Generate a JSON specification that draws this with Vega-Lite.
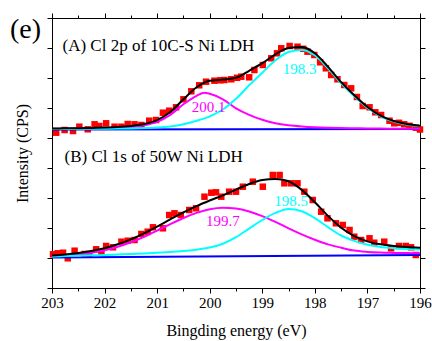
{
  "$schema": "https://vega.github.io/schema/vega-lite/v6.json",
  "width": 368,
  "height": 270,
  "autosize": "none",
  "padding": {"left": 52, "top": 18, "right": 12, "bottom": 53},
  "background": "white",
  "config": {
    "view": {"stroke": "black", "strokeWidth": 1},
    "font": "Liberation Serif",
    "axis": {"domainColor": "black", "tickColor": "black", "labelColor": "black", "titleColor": "black", "labelFont": "Liberation Serif", "titleFont": "Liberation Serif", "grid": false, "tickWidth": 1, "domainWidth": 1}
  },
  "title": {"text": "(e)", "anchor": "start", "frame": "group", "fontSize": 28, "fontWeight": "normal", "font": "Liberation Serif", "color": "black", "baseline": "alphabetic", "offset": 0, "dx": -42, "dy": 53},
  "datasets": {
    "curves": [
      {"s":"A","c":"base","x":203,"y":158.6},{"s":"A","c":"base","x":196,"y":158.9},
      {"s":"B","c":"base","x":203,"y":30.6},{"s":"B","c":"base","x":196,"y":33.0},
      {"s":"A","c":"mag","x":203,"y":159.2},{"s":"A","c":"mag","x":202.75,"y":159.3},{"s":"A","c":"mag","x":202.5,"y":159.4},{"s":"A","c":"mag","x":202.25,"y":159.6},{"s":"A","c":"mag","x":202,"y":159.8},{"s":"A","c":"mag","x":201.75,"y":160.2},{"s":"A","c":"mag","x":201.5,"y":161.1},{"s":"A","c":"mag","x":201.25,"y":162.7},{"s":"A","c":"mag","x":201,"y":166.2},{"s":"A","c":"mag","x":200.75,"y":173.2},{"s":"A","c":"mag","x":200.5,"y":183.7},{"s":"A","c":"mag","x":200.25,"y":192.2},{"s":"A","c":"mag","x":200.1,"y":195.2},{"s":"A","c":"mag","x":200,"y":194.2},{"s":"A","c":"mag","x":199.75,"y":188.7},{"s":"A","c":"mag","x":199.5,"y":179.7},{"s":"A","c":"mag","x":199.25,"y":173.2},{"s":"A","c":"mag","x":199,"y":168.2},{"s":"A","c":"mag","x":198.75,"y":164.7},{"s":"A","c":"mag","x":198.5,"y":162.7},{"s":"A","c":"mag","x":198.25,"y":161.5},{"s":"A","c":"mag","x":198,"y":160.7},{"s":"A","c":"mag","x":197.75,"y":160.2},{"s":"A","c":"mag","x":197.5,"y":159.9},{"s":"A","c":"mag","x":197.25,"y":159.7},{"s":"A","c":"mag","x":197,"y":159.5},{"s":"A","c":"mag","x":196.75,"y":159.4},{"s":"A","c":"mag","x":196.5,"y":159.3},{"s":"A","c":"mag","x":196.25,"y":159.2},{"s":"A","c":"mag","x":196,"y":159.15},
      {"s":"A","c":"cyan","x":203,"y":159.0},{"s":"A","c":"cyan","x":202.75,"y":159.05},{"s":"A","c":"cyan","x":202.5,"y":159.1},{"s":"A","c":"cyan","x":202.25,"y":159.2},{"s":"A","c":"cyan","x":202,"y":159.3},{"s":"A","c":"cyan","x":201.75,"y":159.4},{"s":"A","c":"cyan","x":201.5,"y":159.6},{"s":"A","c":"cyan","x":201.25,"y":159.9},{"s":"A","c":"cyan","x":201,"y":160.4},{"s":"A","c":"cyan","x":200.75,"y":161.5},{"s":"A","c":"cyan","x":200.5,"y":163.7},{"s":"A","c":"cyan","x":200.25,"y":167.2},{"s":"A","c":"cyan","x":200,"y":171.7},{"s":"A","c":"cyan","x":199.75,"y":178.5},{"s":"A","c":"cyan","x":199.5,"y":189.2},{"s":"A","c":"cyan","x":199.25,"y":202.7},{"s":"A","c":"cyan","x":199,"y":215.3},{"s":"A","c":"cyan","x":198.75,"y":227.7},{"s":"A","c":"cyan","x":198.5,"y":236.0},{"s":"A","c":"cyan","x":198.25,"y":238.1},{"s":"A","c":"cyan","x":198,"y":232.7},{"s":"A","c":"cyan","x":197.75,"y":219.7},{"s":"A","c":"cyan","x":197.5,"y":204.7},{"s":"A","c":"cyan","x":197.25,"y":191.7},{"s":"A","c":"cyan","x":197,"y":180.2},{"s":"A","c":"cyan","x":196.75,"y":171.7},{"s":"A","c":"cyan","x":196.5,"y":166.4},{"s":"A","c":"cyan","x":196.25,"y":163.5},{"s":"A","c":"cyan","x":196,"y":161.9},
      {"s":"A","c":"fit","x":203,"y":159.5},{"s":"A","c":"fit","x":202.75,"y":159.65},{"s":"A","c":"fit","x":202.5,"y":159.8},{"s":"A","c":"fit","x":202.25,"y":160.1},{"s":"A","c":"fit","x":202,"y":160.4},{"s":"A","c":"fit","x":201.75,"y":160.9},{"s":"A","c":"fit","x":201.5,"y":162.0},{"s":"A","c":"fit","x":201.25,"y":163.9},{"s":"A","c":"fit","x":201,"y":167.9},{"s":"A","c":"fit","x":200.75,"y":176.0},{"s":"A","c":"fit","x":200.5,"y":188.7},{"s":"A","c":"fit","x":200.25,"y":200.7},{"s":"A","c":"fit","x":200,"y":207.2},{"s":"A","c":"fit","x":199.75,"y":208.5},{"s":"A","c":"fit","x":199.5,"y":210.2},{"s":"A","c":"fit","x":199.25,"y":217.2},{"s":"A","c":"fit","x":199,"y":224.8},{"s":"A","c":"fit","x":198.75,"y":233.7},{"s":"A","c":"fit","x":198.5,"y":240.0},{"s":"A","c":"fit","x":198.25,"y":240.9},{"s":"A","c":"fit","x":198,"y":234.7},{"s":"A","c":"fit","x":197.75,"y":221.2},{"s":"A","c":"fit","x":197.5,"y":205.9},{"s":"A","c":"fit","x":197.25,"y":192.7},{"s":"A","c":"fit","x":197,"y":181.0},{"s":"A","c":"fit","x":196.75,"y":172.4},{"s":"A","c":"fit","x":196.5,"y":167.0},{"s":"A","c":"fit","x":196.25,"y":164.0},{"s":"A","c":"fit","x":196,"y":162.35},
      {"s":"B","c":"mag","x":203,"y":31.4},{"s":"B","c":"mag","x":202.75,"y":32.2},{"s":"B","c":"mag","x":202.5,"y":33.4},{"s":"B","c":"mag","x":202.25,"y":35.2},{"s":"B","c":"mag","x":202,"y":37.7},{"s":"B","c":"mag","x":201.75,"y":41.2},{"s":"B","c":"mag","x":201.5,"y":45.7},{"s":"B","c":"mag","x":201.25,"y":51.2},{"s":"B","c":"mag","x":201,"y":57.4},{"s":"B","c":"mag","x":200.75,"y":63.9},{"s":"B","c":"mag","x":200.5,"y":70.0},{"s":"B","c":"mag","x":200.25,"y":75.1},{"s":"B","c":"mag","x":200,"y":78.7},{"s":"B","c":"mag","x":199.75,"y":80.2},{"s":"B","c":"mag","x":199.5,"y":79.4},{"s":"B","c":"mag","x":199.25,"y":76.5},{"s":"B","c":"mag","x":199,"y":71.9},{"s":"B","c":"mag","x":198.75,"y":66.1},{"s":"B","c":"mag","x":198.5,"y":59.7},{"s":"B","c":"mag","x":198.25,"y":53.6},{"s":"B","c":"mag","x":198,"y":48.2},{"s":"B","c":"mag","x":197.75,"y":43.6},{"s":"B","c":"mag","x":197.5,"y":40.3},{"s":"B","c":"mag","x":197.25,"y":37.4},{"s":"B","c":"mag","x":197,"y":36.1},{"s":"B","c":"mag","x":196.75,"y":35.4},{"s":"B","c":"mag","x":196.5,"y":35.1},{"s":"B","c":"mag","x":196.25,"y":34.9},{"s":"B","c":"mag","x":196,"y":34.8},
      {"s":"B","c":"cyan","x":203,"y":31.6},{"s":"B","c":"cyan","x":202.75,"y":31.9},{"s":"B","c":"cyan","x":202.5,"y":32.3},{"s":"B","c":"cyan","x":202.25,"y":32.7},{"s":"B","c":"cyan","x":202,"y":33.0},{"s":"B","c":"cyan","x":201.75,"y":33.5},{"s":"B","c":"cyan","x":201.5,"y":34.0},{"s":"B","c":"cyan","x":201.25,"y":34.6},{"s":"B","c":"cyan","x":201,"y":35.3},{"s":"B","c":"cyan","x":200.75,"y":36.1},{"s":"B","c":"cyan","x":200.5,"y":37.1},{"s":"B","c":"cyan","x":200.25,"y":38.3},{"s":"B","c":"cyan","x":200,"y":40.4},{"s":"B","c":"cyan","x":199.75,"y":44.2},{"s":"B","c":"cyan","x":199.5,"y":50.8},{"s":"B","c":"cyan","x":199.25,"y":59.4},{"s":"B","c":"cyan","x":199,"y":68.0},{"s":"B","c":"cyan","x":198.75,"y":75.1},{"s":"B","c":"cyan","x":198.5,"y":79.1},{"s":"B","c":"cyan","x":198.25,"y":76.7},{"s":"B","c":"cyan","x":198,"y":69.8},{"s":"B","c":"cyan","x":197.75,"y":60.9},{"s":"B","c":"cyan","x":197.5,"y":52.5},{"s":"B","c":"cyan","x":197.25,"y":47.1},{"s":"B","c":"cyan","x":197,"y":43.2},{"s":"B","c":"cyan","x":196.75,"y":41.0},{"s":"B","c":"cyan","x":196.5,"y":39.8},{"s":"B","c":"cyan","x":196.25,"y":39.0},{"s":"B","c":"cyan","x":196,"y":38.5},
      {"s":"B","c":"fit","x":203,"y":32.4},{"s":"B","c":"fit","x":202.75,"y":33.4},{"s":"B","c":"fit","x":202.5,"y":34.9},{"s":"B","c":"fit","x":202.25,"y":37.0},{"s":"B","c":"fit","x":202,"y":39.8},{"s":"B","c":"fit","x":201.75,"y":43.7},{"s":"B","c":"fit","x":201.5,"y":48.6},{"s":"B","c":"fit","x":201.25,"y":54.6},{"s":"B","c":"fit","x":201,"y":61.4},{"s":"B","c":"fit","x":200.75,"y":68.6},{"s":"B","c":"fit","x":200.5,"y":75.6},{"s":"B","c":"fit","x":200.25,"y":81.9},{"s":"B","c":"fit","x":200,"y":87.5},{"s":"B","c":"fit","x":199.75,"y":92.7},{"s":"B","c":"fit","x":199.5,"y":98.4},{"s":"B","c":"fit","x":199.25,"y":104.0},{"s":"B","c":"fit","x":199,"y":107.9},{"s":"B","c":"fit","x":198.75,"y":109.1},{"s":"B","c":"fit","x":198.5,"y":106.7},{"s":"B","c":"fit","x":198.25,"y":98.1},{"s":"B","c":"fit","x":198,"y":85.7},{"s":"B","c":"fit","x":197.75,"y":72.1},{"s":"B","c":"fit","x":197.5,"y":60.3},{"s":"B","c":"fit","x":197.25,"y":51.9},{"s":"B","c":"fit","x":197,"y":46.6},{"s":"B","c":"fit","x":196.75,"y":43.7},{"s":"B","c":"fit","x":196.5,"y":42.1},{"s":"B","c":"fit","x":196.25,"y":41.0},{"s":"B","c":"fit","x":196,"y":40.3}
    ],
    "pts": [
      {"s":"A","x":202.92,"y":155.3},{"s":"A","x":202.76,"y":158.0},{"s":"A","x":202.6,"y":157.0},{"s":"A","x":202.48,"y":161.3},{"s":"A","x":202.32,"y":158.7},{"s":"A","x":202.19,"y":163.7},{"s":"A","x":202.1,"y":162.0},{"s":"A","x":201.97,"y":164.7},{"s":"A","x":201.81,"y":161.3},{"s":"A","x":201.68,"y":161.3},{"s":"A","x":201.56,"y":164.0},{"s":"A","x":201.43,"y":163.7},{"s":"A","x":201.3,"y":163.0},{"s":"A","x":201.15,"y":167.3},{"s":"A","x":201.02,"y":168.0},{"s":"A","x":200.89,"y":175.3},{"s":"A","x":200.77,"y":177.3},{"s":"A","x":200.64,"y":180.7},{"s":"A","x":200.5,"y":188.7},{"s":"A","x":200.35,"y":196.7},{"s":"A","x":200.2,"y":202.7},{"s":"A","x":200.07,"y":206.3},{"s":"A","x":199.91,"y":207.3},{"s":"A","x":199.8,"y":207.7},{"s":"A","x":199.72,"y":208.0},{"s":"A","x":199.59,"y":208.7},{"s":"A","x":199.48,"y":210.2},{"s":"A","x":199.4,"y":211.3},{"s":"A","x":199.25,"y":210.7},{"s":"A","x":199.15,"y":218.0},{"s":"A","x":198.99,"y":223.0},{"s":"A","x":198.83,"y":229.7},{"s":"A","x":198.72,"y":234.7},{"s":"A","x":198.64,"y":239.7},{"s":"A","x":198.48,"y":242.0},{"s":"A","x":198.33,"y":241.3},{"s":"A","x":198.22,"y":239.2},{"s":"A","x":198.14,"y":236.3},{"s":"A","x":198.01,"y":233.0},{"s":"A","x":197.9,"y":225.7},{"s":"A","x":197.79,"y":219.7},{"s":"A","x":197.69,"y":213.0},{"s":"A","x":197.57,"y":208.7},{"s":"A","x":197.44,"y":203.0},{"s":"A","x":197.31,"y":199.7},{"s":"A","x":197.2,"y":191.0},{"s":"A","x":197.09,"y":182.0},{"s":"A","x":196.96,"y":180.7},{"s":"A","x":196.85,"y":175.7},{"s":"A","x":196.74,"y":173.0},{"s":"A","x":196.58,"y":167.3},{"s":"A","x":196.49,"y":164.7},{"s":"A","x":196.4,"y":165.2},{"s":"A","x":196.3,"y":163.7},{"s":"A","x":196.2,"y":162.2},{"s":"A","x":196.08,"y":160.3},{"s":"A","x":196.0,"y":158.5},
      {"s":"B","x":202.98,"y":33.7},{"s":"B","x":202.89,"y":34.7},{"s":"B","x":202.79,"y":35.3},{"s":"B","x":202.7,"y":29.7},{"s":"B","x":202.57,"y":37.3},{"s":"B","x":202.38,"y":34.0},{"s":"B","x":202.29,"y":34.0},{"s":"B","x":202.16,"y":38.7},{"s":"B","x":202.06,"y":35.3},{"s":"B","x":201.97,"y":42.0},{"s":"B","x":201.84,"y":40.7},{"s":"B","x":201.68,"y":46.3},{"s":"B","x":201.56,"y":47.3},{"s":"B","x":201.43,"y":48.0},{"s":"B","x":201.3,"y":54.0},{"s":"B","x":201.18,"y":56.3},{"s":"B","x":201.08,"y":60.7},{"s":"B","x":200.89,"y":59.7},{"s":"B","x":200.77,"y":73.0},{"s":"B","x":200.67,"y":74.7},{"s":"B","x":200.55,"y":73.0},{"s":"B","x":200.39,"y":78.0},{"s":"B","x":200.26,"y":79.7},{"s":"B","x":200.1,"y":91.3},{"s":"B","x":199.97,"y":95.3},{"s":"B","x":199.88,"y":95.7},{"s":"B","x":199.78,"y":91.3},{"s":"B","x":199.63,"y":96.3},{"s":"B","x":199.5,"y":96.3},{"s":"B","x":199.37,"y":101.3},{"s":"B","x":199.18,"y":106.3},{"s":"B","x":198.99,"y":101.3},{"s":"B","x":198.8,"y":113.0},{"s":"B","x":198.67,"y":113.0},{"s":"B","x":198.58,"y":104.7},{"s":"B","x":198.45,"y":104.7},{"s":"B","x":198.33,"y":104.7},{"s":"B","x":198.2,"y":96.3},{"s":"B","x":198.04,"y":88.0},{"s":"B","x":197.88,"y":76.3},{"s":"B","x":197.76,"y":69.7},{"s":"B","x":197.6,"y":64.7},{"s":"B","x":197.47,"y":63.0},{"s":"B","x":197.34,"y":58.0},{"s":"B","x":197.25,"y":51.3},{"s":"B","x":197.12,"y":48.0},{"s":"B","x":196.96,"y":49.7},{"s":"B","x":196.87,"y":45.3},{"s":"B","x":196.68,"y":46.3},{"s":"B","x":196.55,"y":39.7},{"s":"B","x":196.4,"y":42.0},{"s":"B","x":196.27,"y":42.0},{"s":"B","x":196.17,"y":40.7},{"s":"B","x":196.08,"y":33.0}
    ],
    "panels": [
      {"x":202.8,"y":242,"t":"(A) Cl 2p of 10C-S Ni LDH"},
      {"x":202.76,"y":131.3,"t":"(B) Cl 1s of 50W Ni LDH"}
    ],
    "peaks": [
      {"x":200.02,"y":180.6,"t":"200.1","peak":"higher BE"},
      {"x":198.29,"y":219.4,"t":"198.3","peak":"lower BE"},
      {"x":198.45,"y":87.2,"t":"198.5","peak":"lower BE"},
      {"x":199.75,"y":67.2,"t":"199.7","peak":"higher BE"}
    ]
  },
  "layer": [
    {
      "data": {"name": "pts"},
      "mark": {"type": "point", "shape": "square", "filled": true, "color": "#FF0000", "size": 42, "opacity": 1, "strokeWidth": 0},
      "encoding": {
        "x": {"field": "x", "type": "quantitative", "scale": {"domain": [196, 203], "reverse": true, "nice": false, "zero": false}, "axis": null},
        "y": {"field": "y", "type": "quantitative", "scale": {"domain": [0, 270], "nice": false, "zero": false}, "axis": null}
      }
    },
    {
      "data": {"name": "curves"},
      "transform": [{"filter": "datum.c === 'base'"}],
      "mark": {"type": "line", "color": "#0000FF", "strokeWidth": 2, "clip": true},
      "encoding": {
        "x": {"field": "x", "type": "quantitative", "scale": {"domain": [196, 203], "reverse": true, "nice": false, "zero": false},
              "axis": {"orient": "bottom", "values": [196, 197, 198, 199, 200, 201, 202, 203], "format": "d", "tickSize": 5, "labelFont": "Liberation Serif", "labelFontSize": 15, "labelPadding": 2, "labelFlush": false, "labelOverlap": false, "title": "Bingding energy (eV)", "titleFont": "Liberation Serif", "titleFontSize": 16, "titleFontWeight": "normal", "titlePadding": 12}},
        "y": {"field": "y", "type": "quantitative", "scale": {"domain": [0, 270], "nice": false, "zero": false},
              "axis": {"orient": "left", "values": [0, 30, 60, 90, 120, 150, 180, 210, 240, 270], "labels": false, "tickSize": 5, "title": "Intensity (CPS)", "titleFont": "Liberation Serif", "titleFontSize": 16, "titleFontWeight": "normal", "titlePadding": 16}},
        "detail": {"field": "s"}
      }
    },
    {
      "data": {"name": "curves"},
      "transform": [{"filter": "datum.c === 'mag'"}],
      "mark": {"type": "line", "color": "#FF00FF", "strokeWidth": 2, "interpolate": "monotone", "clip": true},
      "encoding": {
        "x": {"field": "x", "type": "quantitative", "scale": {"domain": [196, 203], "reverse": true, "nice": false, "zero": false},
              "axis": {"orient": "bottom", "values": [196.5, 197.5, 198.5, 199.5, 200.5, 201.5, 202.5], "labels": false, "tickSize": 3, "domain": false, "title": null}},
        "y": {"field": "y", "type": "quantitative", "scale": {"domain": [0, 270], "nice": false, "zero": false},
              "axis": {"orient": "right", "values": [0, 30, 60, 90, 120, 150, 180, 210, 240, 270], "labels": false, "tickSize": 5, "title": null}},
        "detail": {"field": "s"}
      }
    },
    {
      "data": {"name": "curves"},
      "transform": [{"filter": "datum.c === 'cyan'"}],
      "mark": {"type": "line", "color": "#00FFFF", "strokeWidth": 2, "interpolate": "monotone", "clip": true},
      "encoding": {
        "x": {"field": "x", "type": "quantitative", "scale": {"domain": [196, 203], "reverse": true, "nice": false, "zero": false},
              "axis": {"orient": "top", "values": [196, 197, 198, 199, 200, 201, 202, 203], "labels": false, "tickSize": 5, "title": null}},
        "y": {"field": "y", "type": "quantitative", "scale": {"domain": [0, 270], "nice": false, "zero": false}, "axis": null},
        "detail": {"field": "s"}
      }
    },
    {
      "data": {"name": "curves"},
      "transform": [{"filter": "datum.c === 'fit'"}],
      "mark": {"type": "line", "color": "#000000", "strokeWidth": 2, "interpolate": "monotone", "clip": true},
      "encoding": {
        "x": {"field": "x", "type": "quantitative", "scale": {"domain": [196, 203], "reverse": true, "nice": false, "zero": false},
              "axis": {"orient": "top", "values": [196.5, 197.5, 198.5, 199.5, 200.5, 201.5, 202.5], "labels": false, "tickSize": 3, "domain": false, "title": null}},
        "y": {"field": "y", "type": "quantitative", "scale": {"domain": [0, 270], "nice": false, "zero": false}, "axis": null},
        "detail": {"field": "s"}
      }
    },
    {
      "data": {"name": "panels"},
      "mark": {"type": "text", "align": "left", "baseline": "middle", "fontSize": 17, "font": "Liberation Serif", "color": "black"},
      "encoding": {
        "x": {"field": "x", "type": "quantitative", "scale": {"domain": [196, 203], "reverse": true, "nice": false, "zero": false}, "axis": null},
        "y": {"field": "y", "type": "quantitative", "scale": {"domain": [0, 270], "nice": false, "zero": false}, "axis": null},
        "text": {"field": "t"}
      }
    },
    {
      "data": {"name": "peaks"},
      "mark": {"type": "text", "align": "center", "baseline": "middle", "fontSize": 15, "font": "Liberation Serif"},
      "encoding": {
        "x": {"field": "x", "type": "quantitative", "scale": {"domain": [196, 203], "reverse": true, "nice": false, "zero": false}, "axis": null},
        "y": {"field": "y", "type": "quantitative", "scale": {"domain": [0, 270], "nice": false, "zero": false}, "axis": null},
        "text": {"field": "t"},
        "color": {"field": "peak", "type": "nominal", "scale": {"domain": ["higher BE", "lower BE"], "range": ["#FF00FF", "#00FFFF"]}, "legend": null}
      }
    }
  ],
  "resolve": {"axis": {"x": "independent", "y": "independent"}}
}
